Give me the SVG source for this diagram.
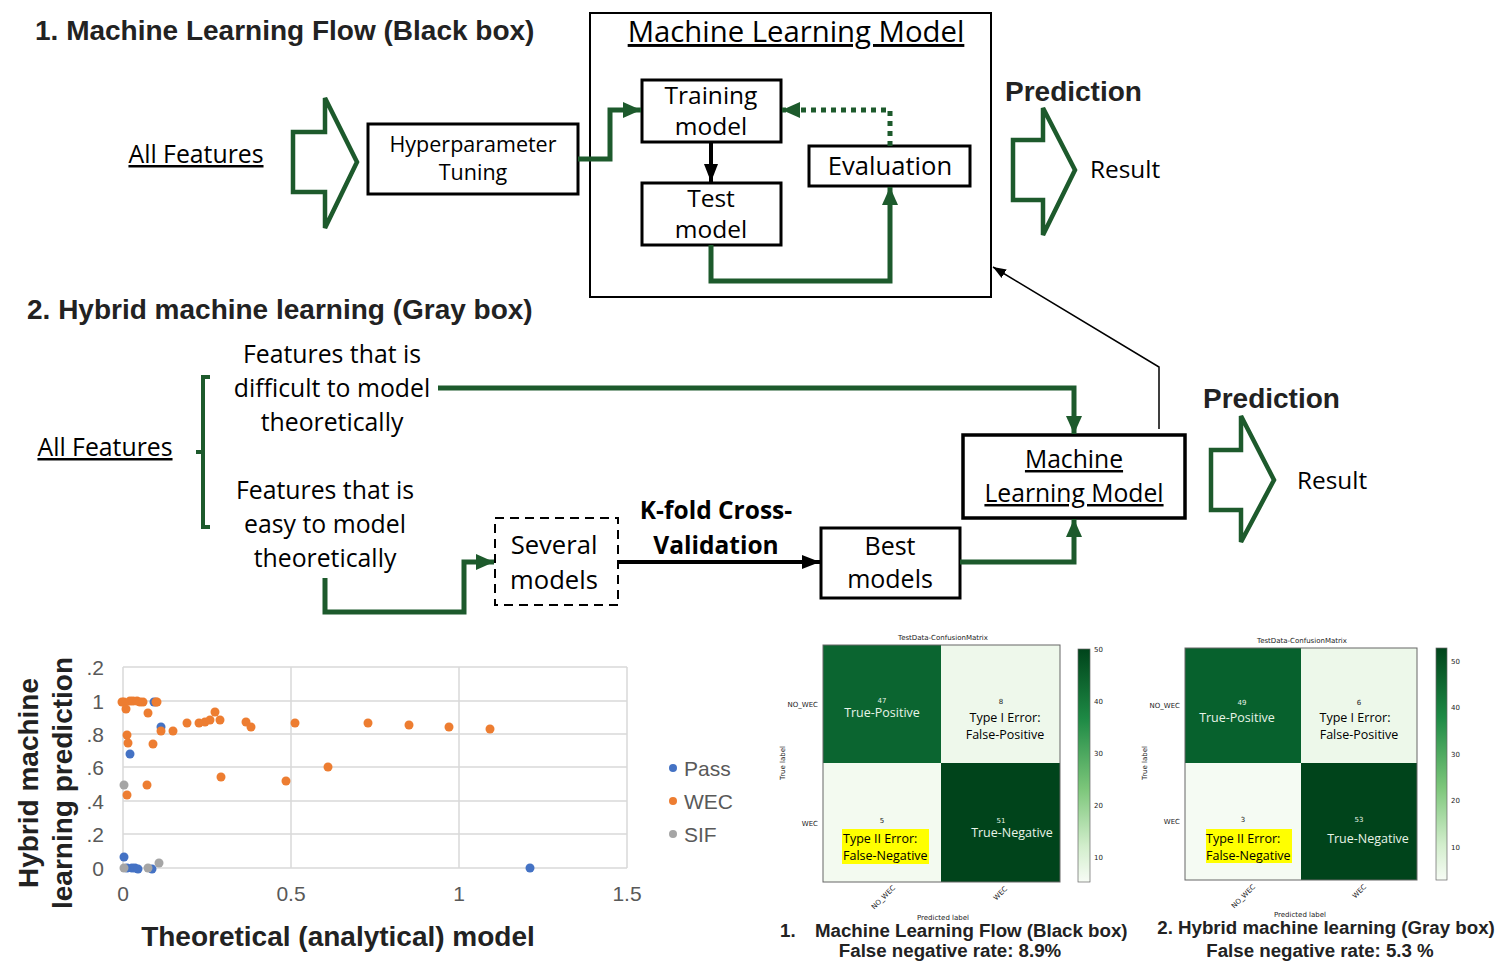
<svg xmlns="http://www.w3.org/2000/svg" width="1512" height="973" viewBox="0 0 1512 973">
<defs>
<style>
.t{font-family:"Open Sans","Noto Sans",sans-serif;fill:#000}
.h{font-family:"Liberation Sans",Arial,sans-serif;font-weight:bold;fill:#222}
.box{fill:#fff;stroke:#000;stroke-width:3}
.g{fill:none;stroke:#1d5a2c;stroke-width:5}
.blk{fill:none;stroke:#000;stroke-width:4}
.barrow{fill:#fff;stroke:#1d5a2c;stroke-width:4.5}
.grid{stroke:#d9d9d9;stroke-width:1.5}
.ax{font-family:"Liberation Sans",Arial,sans-serif;fill:#595959;font-size:21px}
.cm{font-family:"DejaVu Sans",sans-serif;font-size:7px;fill:#222}
.cl{font-family:"Open Sans","Noto Sans",sans-serif;font-size:12.5px}
.cap{font-family:"Liberation Sans",Arial,sans-serif;font-weight:bold;font-size:18.7px;fill:#222}
</style>
<marker id="ag" markerUnits="userSpaceOnUse" markerWidth="20" markerHeight="20" viewBox="0 0 20 20" refX="18" refY="10" orient="auto"><path d="M0,2 L18,10 L0,18 Z" fill="#1d5a2c"/></marker>
<marker id="ab" markerUnits="userSpaceOnUse" markerWidth="20" markerHeight="20" viewBox="0 0 20 20" refX="18" refY="10" orient="auto"><path d="M0,3 L18,10 L0,17 Z" fill="#000"/></marker>
<marker id="at" markerUnits="userSpaceOnUse" markerWidth="14" markerHeight="14" viewBox="0 0 14 14" refX="13" refY="7" orient="auto"><path d="M0,2 L13,7 L0,12 Z" fill="#000"/></marker>
<linearGradient id="cb" x1="0" y1="0" x2="0" y2="1"><stop offset="0" stop-color="#00441b"/><stop offset="0.3" stop-color="#1e8a45"/><stop offset="0.6" stop-color="#7cc67a"/><stop offset="0.85" stop-color="#d3eecd"/><stop offset="1" stop-color="#f7fcf5"/></linearGradient>
</defs>
<rect width="1512" height="973" fill="#fff"/>

<!-- titles -->
<text class="h" x="35" y="40" font-size="28">1. Machine Learning Flow (Black box)</text>
<text class="h" x="27" y="319" font-size="28">2. Hybrid machine learning (Gray box)</text>

<!-- Section 1 -->
<g id="all-features-1"><text class="t" x="196" y="163" font-size="24.8" text-anchor="middle" text-decoration="underline">All Features</text></g>
<g id="bigarrow-1"><polygon class="barrow" points="293,132 325,132 325,98 357,162 325,228 325,192 293,192"/></g>
<g id="hyper"><rect class="box" x="368" y="124" width="210" height="70"/>
<text class="t" x="473" y="152" font-size="21.5" text-anchor="middle">Hyperparameter</text>
<text class="t" x="473" y="180" font-size="21.5" text-anchor="middle">Tuning</text></g>
<g id="ml-model-outer"><rect x="590" y="13" width="401" height="284" fill="none" stroke="#000" stroke-width="2"/>
<text class="t" x="796" y="42" font-size="29.3" text-anchor="middle" text-decoration="underline">Machine Learning Model</text></g>
<g id="training"><rect class="box" x="642" y="80" width="139" height="62"/>
<text class="t" x="711" y="104" font-size="24.5" text-anchor="middle">Training</text>
<text class="t" x="711" y="135" font-size="24.5" text-anchor="middle">model</text></g>
<g id="test"><rect class="box" x="642" y="183" width="139" height="62"/>
<text class="t" x="711" y="207" font-size="24.5" text-anchor="middle">Test</text>
<text class="t" x="711" y="238" font-size="24.5" text-anchor="middle">model</text></g>
<g id="evaluation"><rect class="box" x="809" y="146" width="161" height="40"/>
<text class="t" x="890" y="175" font-size="25.6" text-anchor="middle">Evaluation</text></g>
<g id="prediction-1"><text class="h" x="1005" y="101" font-size="28">Prediction</text>
<polygon class="barrow" points="1013,140 1043,140 1043,108 1075,170 1043,235 1043,200 1013,200"/>
<text class="t" x="1090" y="178" font-size="24.4">Result</text></g>

<!-- Section 2 -->
<g id="all-features-2"><text class="t" x="105" y="456" font-size="24.8" text-anchor="middle" text-decoration="underline">All Features</text>
<path d="M210,377 H203 V527 H210 M203,452 H196" fill="none" stroke="#1d5a2c" stroke-width="4"/></g>
<g id="difficult"><text class="t" font-size="24.8" text-anchor="middle"><tspan x="332" y="363">Features that is</tspan><tspan x="332" y="397">difficult to model</tspan><tspan x="332" y="431">theoretically</tspan></text></g>
<g id="easy"><text class="t" font-size="24.8" text-anchor="middle"><tspan x="325" y="499">Features that is</tspan><tspan x="325" y="533">easy to model</tspan><tspan x="325" y="567">theoretically</tspan></text></g>
<g id="several"><rect x="495" y="518" width="123" height="87" fill="#fff" stroke="#000" stroke-width="2" stroke-dasharray="9 6"/>
<text class="t" x="554" y="554" font-size="25.6" text-anchor="middle">Several</text>
<text class="t" x="554" y="589" font-size="25.6" text-anchor="middle">models</text></g>
<g id="kfold"><text class="t" x="716" y="519" font-size="24.5" font-weight="bold" text-anchor="middle">K-fold Cross-</text>
<text class="t" x="716" y="554" font-size="24.5" font-weight="bold" text-anchor="middle">Validation</text></g>
<g id="best"><rect class="box" x="821" y="528" width="139" height="70"/>
<text class="t" x="890" y="555" font-size="25" text-anchor="middle">Best</text>
<text class="t" x="890" y="588" font-size="25" text-anchor="middle">models</text></g>
<g id="ml-model-2"><rect x="963" y="435" width="222" height="83" fill="#fff" stroke="#000" stroke-width="3.5"/>
<text class="t" x="1074" y="468" font-size="24.7" text-anchor="middle" text-decoration="underline">Machine</text>
<text class="t" x="1074" y="502" font-size="24.7" text-anchor="middle" text-decoration="underline">Learning Model</text></g>
<g id="prediction-2"><text class="h" x="1203" y="408" font-size="28">Prediction</text>
<polygon class="barrow" points="1211,450 1241,450 1241,416 1274,480 1241,542 1241,510 1211,510"/>
<text class="t" x="1297" y="489" font-size="24.4">Result</text></g>

<!-- connectors -->
<g id="connectors">
<path class="g" d="M578,159 H610 V110 H641" marker-end="url(#ag)"/>
<path class="blk" d="M711,142 V182" marker-end="url(#ab)"/>
<path class="g" d="M890,146 V110 H782" stroke-dasharray="5 5" marker-end="url(#ag)"/>
<path class="g" d="M711,245 V281 H890 V187" marker-end="url(#ag)"/>
<path d="M1159,429 V367 L993,267" fill="none" stroke="#000" stroke-width="1.5" marker-end="url(#at)"/>
<path class="g" d="M438,388 H1074 V434" marker-end="url(#ag)"/>
<path class="g" d="M960,562 H1074 V519" marker-end="url(#ag)"/>
<path class="g" d="M325,578 V612 H464 V562 H494" marker-end="url(#ag)"/>
<path class="blk" d="M618,562 H820" marker-end="url(#ab)"/>
</g>

<!-- scatter chart -->
<g id="scatter">
<g class="grid">
<line x1="123" y1="667" x2="627" y2="667"/><line x1="123" y1="701" x2="627" y2="701"/><line x1="123" y1="734" x2="627" y2="734"/>
<line x1="123" y1="767" x2="627" y2="767"/><line x1="123" y1="801" x2="627" y2="801"/><line x1="123" y1="834" x2="627" y2="834"/>
<line x1="123" y1="868" x2="627" y2="868"/>
<line x1="123" y1="667" x2="123" y2="868"/><line x1="291" y1="667" x2="291" y2="868"/><line x1="459" y1="667" x2="459" y2="868"/><line x1="627" y1="667" x2="627" y2="868"/>
</g>
<g class="ax" text-anchor="end">
<text x="104" y="675">.2</text><text x="104" y="709">1</text><text x="104" y="742">.8</text><text x="104" y="775">.6</text><text x="104" y="809">.4</text><text x="104" y="842">.2</text><text x="104" y="876">0</text>
</g>
<g class="ax" text-anchor="middle">
<text x="123" y="901">0</text><text x="291" y="901">0.5</text><text x="459" y="901">1</text><text x="627" y="901">1.5</text>
</g>
<text class="h" font-size="28" text-anchor="middle" transform="translate(38,783) rotate(-90)" fill="#111">Hybrid machine</text>
<text class="h" font-size="28" text-anchor="middle" transform="translate(72,783) rotate(-90)" fill="#111">learning prediction</text>
<text class="h" x="338" y="946" font-size="28" text-anchor="middle" fill="#111">Theoretical (analytical) model</text>
<g fill="#4472c4">
<circle cx="154" cy="702" r="4.5"/><circle cx="161" cy="727" r="4.5"/><circle cx="130" cy="754" r="4.5"/><circle cx="124" cy="857" r="4.5"/>
<circle cx="127" cy="868" r="4.5"/><circle cx="132" cy="868" r="4.5"/><circle cx="135" cy="868" r="4.5"/><circle cx="138" cy="869" r="4.5"/><circle cx="152" cy="869" r="4.5"/>
<circle cx="530" cy="868" r="4.5"/>
</g>
<g fill="#ed7d31">
<circle cx="122" cy="702" r="4.5"/><circle cx="124" cy="702" r="4.5"/><circle cx="126" cy="709" r="4.5"/><circle cx="130" cy="701" r="4.5"/><circle cx="133" cy="701" r="4.5"/>
<circle cx="137" cy="701" r="4.5"/><circle cx="140" cy="702" r="4.5"/><circle cx="143" cy="702" r="4.5"/><circle cx="156" cy="702" r="4.5"/><circle cx="157" cy="702" r="4.5"/>
<circle cx="148" cy="713" r="4.5"/><circle cx="127" cy="735" r="4.5"/><circle cx="128" cy="743" r="4.5"/><circle cx="153" cy="744" r="4.5"/><circle cx="127" cy="795" r="4.5"/>
<circle cx="147" cy="785" r="4.5"/><circle cx="161" cy="731" r="4.5"/><circle cx="173" cy="731" r="4.5"/><circle cx="187" cy="723" r="4.5"/><circle cx="199" cy="723" r="4.5"/>
<circle cx="205" cy="722" r="4.5"/><circle cx="210" cy="720" r="4.5"/><circle cx="215" cy="712" r="4.5"/><circle cx="220" cy="720" r="4.5"/><circle cx="246" cy="722" r="4.5"/>
<circle cx="251" cy="727" r="4.5"/><circle cx="295" cy="723" r="4.5"/><circle cx="221" cy="777" r="4.5"/><circle cx="286" cy="781" r="4.5"/><circle cx="328" cy="767" r="4.5"/>
<circle cx="368" cy="723" r="4.5"/><circle cx="409" cy="725" r="4.5"/><circle cx="449" cy="727" r="4.5"/><circle cx="490" cy="729" r="4.5"/>
</g>
<g fill="#a5a5a5">
<circle cx="124" cy="785" r="4.5"/><circle cx="124" cy="868" r="4.5"/><circle cx="148" cy="868" r="4.5"/><circle cx="159" cy="863" r="4.5"/>
</g>
<circle cx="673" cy="768" r="4" fill="#4472c4"/><circle cx="673" cy="801" r="4" fill="#ed7d31"/><circle cx="673" cy="834" r="4" fill="#a5a5a5"/>
<g class="ax"><text x="684" y="776">Pass</text><text x="684" y="809">WEC</text><text x="684" y="842">SIF</text></g>
</g>

<!-- confusion matrix 1 -->
<g id="cm1">
<text class="cm" x="943" y="640" font-size="8" text-anchor="middle">TestData-ConfusionMatrix</text>
<rect x="823" y="645" width="118" height="118" fill="#0b6530"/>
<rect x="941" y="645" width="119" height="118" fill="#eef8eb"/>
<rect x="823" y="763" width="118" height="119" fill="#f3faf0"/>
<rect x="941" y="763" width="119" height="119" fill="#00441b"/>
<rect x="823" y="645" width="237" height="237" fill="none" stroke="#666" stroke-width="1"/>
<rect x="1078" y="649" width="12" height="233" fill="url(#cb)" stroke="#666" stroke-width="0.7"/>
<g class="cm"><text x="1094" y="652">50</text><text x="1094" y="704">40</text><text x="1094" y="756">30</text><text x="1094" y="808">20</text><text x="1094" y="860">10</text>
<text x="818" y="707" text-anchor="end">NO_WEC</text><text x="818" y="826" text-anchor="end">WEC</text>
<text transform="translate(785,763) rotate(-90)" text-anchor="middle">True label</text>
<text transform="translate(885,899) rotate(-45)" text-anchor="middle">NO_WEC</text>
<text transform="translate(1002,895) rotate(-45)" text-anchor="middle">WEC</text>
<text x="943" y="920" text-anchor="middle">Predicted label</text>
<text x="882" y="703" text-anchor="middle" fill="#e8f4e8">47</text><text x="1001" y="704" text-anchor="middle">8</text>
<text x="882" y="823" text-anchor="middle">5</text><text x="1001" y="823" text-anchor="middle" fill="#e8f4e8">51</text></g>
<text class="cl" x="882" y="717" text-anchor="middle" fill="#e8f4e8">True-Positive</text>
<text class="cl" x="1005" y="722" text-anchor="middle">Type I Error:</text>
<text class="cl" x="1005" y="739" text-anchor="middle">False-Positive</text>
<rect x="842" y="829" width="87" height="35" fill="#ffff00"/>
<text class="cl" x="843" y="843">Type II Error:</text>
<text class="cl" x="843" y="860">False-Negative</text>
<text class="cl" x="1012" y="837" text-anchor="middle" fill="#e8f4e8">True-Negative</text>
<text class="cap" x="780" y="937">1.</text>
<text class="cap" x="815" y="937">Machine Learning Flow (Black box)</text>
<text class="cap" x="950" y="957" text-anchor="middle">False negative rate: 8.9%</text>
</g>

<!-- confusion matrix 2 -->
<g id="cm2">
<text class="cm" x="1302" y="643" font-size="8" text-anchor="middle">TestData-ConfusionMatrix</text>
<rect x="1185" y="648" width="116" height="115" fill="#07612d"/>
<rect x="1301" y="648" width="116" height="115" fill="#edf8ea"/>
<rect x="1185" y="763" width="116" height="117" fill="#f5fbf3"/>
<rect x="1301" y="763" width="116" height="117" fill="#00441b"/>
<rect x="1185" y="648" width="232" height="232" fill="none" stroke="#666" stroke-width="1"/>
<rect x="1436" y="648" width="11" height="232" fill="url(#cb)" stroke="#666" stroke-width="0.7"/>
<g class="cm"><text x="1451" y="664">50</text><text x="1451" y="710">40</text><text x="1451" y="757">30</text><text x="1451" y="803">20</text><text x="1451" y="850">10</text>
<text x="1180" y="708" text-anchor="end">NO_WEC</text><text x="1180" y="824" text-anchor="end">WEC</text>
<text transform="translate(1147,763) rotate(-90)" text-anchor="middle">True label</text>
<text transform="translate(1245,898) rotate(-45)" text-anchor="middle">NO_WEC</text>
<text transform="translate(1361,893) rotate(-45)" text-anchor="middle">WEC</text>
<text x="1300" y="917" text-anchor="middle">Predicted label</text>
<text x="1242" y="705" text-anchor="middle" fill="#e8f4e8">49</text><text x="1359" y="705" text-anchor="middle">6</text>
<text x="1243" y="822" text-anchor="middle">3</text><text x="1359" y="822" text-anchor="middle" fill="#e8f4e8">53</text></g>
<text class="cl" x="1237" y="722" text-anchor="middle" fill="#e8f4e8">True-Positive</text>
<text class="cl" x="1355" y="722" text-anchor="middle">Type I Error:</text>
<text class="cl" x="1359" y="739" text-anchor="middle">False-Positive</text>
<rect x="1206" y="829" width="86" height="34" fill="#ffff00"/>
<text class="cl" x="1206" y="843">Type II Error:</text>
<text class="cl" x="1206" y="860">False-Negative</text>
<text class="cl" x="1368" y="843" text-anchor="middle" fill="#e8f4e8">True-Negative</text>
<text class="cap" x="1326" y="934" text-anchor="middle">2. Hybrid machine learning (Gray box)</text>
<text class="cap" x="1320" y="957" text-anchor="middle">False negative rate: 5.3 %</text>
</g>
</svg>
